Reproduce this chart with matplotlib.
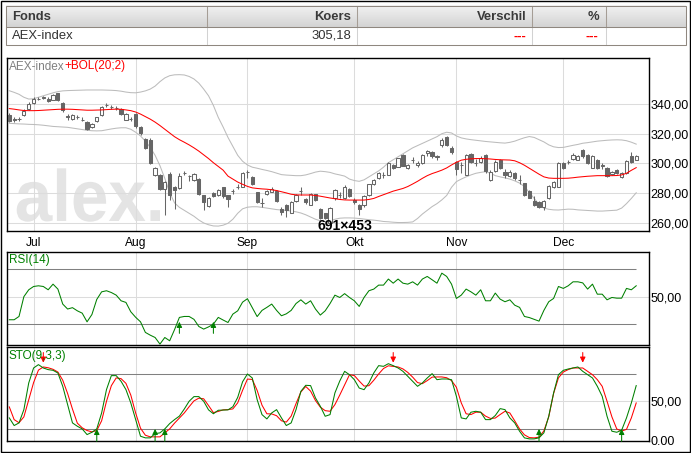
import numpy as np
import matplotlib
matplotlib.use('Agg')
import matplotlib.pyplot as plt
from matplotlib.textpath import TextPath
from matplotlib.patches import PathPatch, Rectangle
from matplotlib.font_manager import FontProperties
from matplotlib.transforms import Affine2D

# ---------------- data ----------------
month_labels = ['Jul', 'Aug', 'Sep', 'Okt', 'Nov', 'Dec']
month_pos = [5, 26, 49, 71, 92, 114]

opens = [332.8, 329.6, 329.8, 332.4, 336.9, 340.7, 343.4, 344.2, 343.6, 342.9,
         347.2, 340.7, 331.6, 329.9, 331.0, 329.5, 327.9, 324.7, 328.3, 332.4,
         339.0, 337.9, 337.2, 336.9, 329.4, 329.8, 333.3, 324.2, 316.2, 316.1,
         292.4, 292.4, 283.1, 293.2, 284.5, 283.6, 293.3, 291.8, 289.0, 289.5,
         278.7, 271.5, 280.0, 278.8, 284.0, 278.7, 281.4, 284.3, 284.4, 294.4,
         291.1, 280.6, 273.2, 279.2, 281.0, 281.5, 269.7, 272.4, 267.0, 274.7,
         281.4, 276.1, 272.4, 279.2, 269.3, 266.4, 259.8, 277.0, 278.7, 276.5,
         282.8, 275.4, 272.4, 272.4, 278.8, 286.0, 290.0, 292.2, 292.3, 299.0,
         297.9, 305.8, 296.8, 302.3, 298.8, 300.2, 306.9, 307.6, 304.6, 312.1,
         317.5, 310.7, 300.8, 299.0, 292.3, 306.5, 300.2, 300.8, 305.8, 288.9,
         295.0, 302.4, 294.5, 291.8, 293.4, 288.8, 286.6, 281.5, 274.7, 274.3,
         270.9, 276.5, 284.4, 284.4, 300.2, 300.7, 303.1, 302.4, 309.2, 305.8,
         297.2, 302.4, 298.5, 297.2, 292.7, 295.6, 291.1, 293.4, 304.7, 302.4]
highs = [334.0, 331.0, 331.5, 336.5, 341.0, 344.5, 344.8, 345.3, 344.5, 347.0,
         347.5, 341.0, 333.3, 333.0, 332.5, 331.0, 328.5, 327.0, 331.5, 338.5,
         340.5, 339.0, 338.5, 337.5, 334.0, 331.5, 334.0, 325.0, 317.0, 317.0,
         297.5, 293.0, 288.5, 294.0, 285.0, 293.5, 295.0, 292.3, 293.5, 290.0,
         279.0, 277.5, 281.0, 282.5, 284.5, 279.0, 283.0, 286.5, 294.0, 295.5,
         291.5, 281.0, 276.5, 282.0, 284.0, 282.0, 271.0, 273.0, 274.5, 279.5,
         284.5, 276.5, 280.0, 279.5, 270.0, 267.0, 270.5, 282.8, 280.5, 285.5,
         283.5, 276.5, 273.0, 279.0, 286.5, 289.5, 294.0, 294.0, 301.0, 299.5,
         304.0, 306.5, 299.5, 304.5, 301.5, 306.5, 309.0, 308.5, 306.0, 316.8,
         318.5, 311.5, 301.5, 301.0, 306.5, 307.0, 303.0, 305.0, 306.5, 295.5,
         302.0, 303.0, 296.5, 295.5, 294.0, 292.0, 287.0, 282.0, 278.0, 275.0,
         275.5, 285.8, 288.5, 301.0, 300.8, 302.0, 307.0, 305.5, 310.0, 306.5,
         305.5, 303.0, 300.5, 297.8, 295.0, 296.5, 294.0, 302.5, 307.5, 305.8]
lows = [328.0, 328.0, 328.5, 331.8, 336.0, 340.0, 342.5, 343.5, 341.2, 342.5,
        342.0, 334.5, 329.5, 329.5, 330.0, 328.5, 322.5, 324.0, 327.8, 332.0,
        338.0, 336.8, 336.0, 332.5, 329.0, 328.5, 324.0, 319.0, 309.5, 299.5,
        291.5, 282.0, 265.3, 275.5, 269.5, 283.0, 292.0, 288.5, 288.5, 279.0,
        268.5, 270.5, 277.5, 278.0, 277.0, 270.5, 279.5, 283.0, 284.0, 290.0,
        285.5, 273.5, 271.0, 278.5, 280.5, 274.0, 265.5, 264.0, 266.5, 274.0,
        278.5, 273.0, 272.0, 275.0, 262.5, 262.5, 259.5, 275.5, 277.0, 276.0,
        277.5, 272.5, 265.5, 271.0, 278.3, 285.5, 289.5, 290.0, 292.0, 296.5,
        297.5, 298.0, 296.0, 300.5, 297.5, 299.8, 305.0, 303.5, 302.5, 311.0,
        311.5, 306.5, 292.0, 293.5, 292.0, 300.0, 298.5, 300.0, 293.5, 288.5,
        294.5, 296.0, 290.0, 291.0, 289.0, 286.5, 278.0, 276.5, 271.5, 270.0,
        268.5, 276.0, 283.5, 284.0, 296.0, 299.5, 302.5, 302.0, 304.0, 299.5,
        296.8, 296.0, 296.5, 291.0, 292.0, 293.0, 290.5, 293.0, 300.0, 302.0]
closes = [328.8, 329.4, 330.0, 335.5, 340.0, 343.6, 343.6, 344.3, 341.8, 346.3,
          342.5, 336.2, 331.4, 332.4, 331.1, 329.4, 323.4, 326.5, 331.0, 337.8,
          339.1, 337.8, 337.3, 333.3, 333.3, 329.7, 324.9, 320.4, 310.4, 300.4,
          296.7, 282.9, 287.6, 278.5, 282.2, 291.9, 293.5, 291.7, 292.6, 279.4,
          274.4, 276.6, 278.4, 282.0, 278.2, 276.2, 281.5, 284.4, 293.4, 294.5,
          286.0, 274.3, 273.1, 281.5, 282.8, 274.7, 267.5, 268.6, 273.8, 278.8,
          281.5, 273.8, 279.2, 275.4, 263.4, 263.5, 269.8, 282.1, 278.8, 284.4,
          278.3, 273.8, 269.3, 278.3, 286.0, 288.9, 293.4, 292.3, 300.2, 297.2,
          303.5, 298.6, 299.0, 302.4, 300.0, 305.8, 308.5, 304.7, 304.7, 315.9,
          312.1, 307.6, 296.3, 299.1, 305.4, 300.8, 300.3, 303.5, 295.0, 294.5,
          301.3, 296.8, 292.3, 294.5, 290.0, 288.9, 278.8, 277.0, 272.4, 270.9,
          274.7, 285.1, 287.8, 300.2, 296.8, 300.8, 305.8, 304.7, 304.7, 300.2,
          304.7, 296.8, 298.6, 291.8, 294.5, 293.4, 293.4, 301.7, 300.8, 305.2]

bol_mid = [336.9, 336.5, 336.0, 335.6, 335.5, 335.5, 335.6, 335.8, 336.0, 336.2,
           336.4, 336.5, 336.5, 336.4, 336.2, 336.0, 335.8, 335.8, 335.9, 336.0,
           336.2, 336.4, 336.5, 336.4, 336.0, 335.5, 334.6, 333.2, 331.5, 329.8,
           327.8, 325.5, 323.0, 320.5, 318.0, 316.0, 314.3, 312.5, 310.5, 308.3,
           305.8, 303.3, 300.5, 298.0, 295.5, 291.5, 289.5, 287.5, 286.0, 284.6,
           283.6, 283.2, 282.9, 282.7, 282.3, 281.8, 281.0, 280.2, 279.3, 278.9,
           278.8, 278.8, 278.8, 278.5, 278.0, 277.4, 276.8, 276.3, 275.8, 275.5,
           275.4, 275.4, 275.4, 275.4, 275.8, 276.5, 277.8, 279.0, 280.2, 281.4,
           282.3, 283.2, 284.5, 286.2, 288.0, 290.0, 291.8, 293.2, 294.3, 295.5,
           297.0, 299.0, 300.8, 302.2, 302.8, 303.1, 303.3, 303.3, 303.2, 303.0,
           302.7, 302.5, 302.4, 302.3, 301.8, 300.5, 298.8, 296.8, 294.8, 292.8,
           291.0, 290.2, 290.0, 290.0, 290.0, 290.1, 290.4, 290.8, 291.1, 291.4,
           291.6, 291.8, 291.8, 291.8, 291.8, 291.9, 292.3, 293.4, 295.4, 297.2]
bol_up = [348.9, 347.8, 346.5, 344.5, 343.3, 343.5, 344.5, 345.5, 346.5, 347.5,
          348.3, 348.8, 349.0, 349.1, 349.2, 349.3, 349.4, 349.4, 349.4, 349.4,
          349.3, 349.2, 349.0, 348.6, 348.0, 347.6, 347.5, 348.0, 348.8, 350.0,
          352.0, 355.0, 357.5, 359.0, 359.6, 359.7, 359.5, 358.5, 356.8, 354.0,
          350.0, 345.5, 339.0, 331.0, 324.5, 317.5, 311.5, 305.5, 301.5, 299.0,
          297.5, 296.8, 296.0, 295.3, 294.5, 293.5, 292.5, 292.2, 292.0, 291.8,
          291.8, 292.3, 293.2, 294.2, 294.8, 294.5, 294.0, 293.0, 292.3, 291.5,
          289.5, 288.5, 288.0, 289.0, 291.0, 293.0, 295.0, 297.5, 300.5, 302.5,
          304.5, 306.5, 308.5, 310.5, 312.0, 313.5, 315.0, 316.5, 318.0, 320.0,
          321.0, 320.5, 318.5, 317.2, 316.5, 316.0, 315.6, 315.2, 314.8, 314.5,
          314.2, 313.9, 313.7, 314.2, 315.0, 316.2, 317.3, 318.1, 317.5, 316.0,
          314.5, 312.5, 311.2, 310.7, 310.8, 311.5, 312.2, 312.8, 313.6, 314.0,
          314.5, 315.0, 315.3, 315.6, 315.8, 315.9, 315.8, 315.3, 314.3, 313.0]
bol_low = [327.0, 326.8, 326.6, 326.5, 326.3, 326.2, 326.0, 325.7, 325.3, 324.9,
           324.7, 324.5, 324.3, 323.8, 323.3, 322.8, 322.3, 322.0, 321.9, 322.0,
           322.6, 323.2, 323.7, 324.0, 324.0, 323.0, 321.0, 318.5, 315.0, 310.8,
           305.5, 298.5, 290.0, 280.5, 273.5, 270.5, 268.5, 266.5, 264.5, 262.0,
           260.0, 258.8, 258.0, 257.9, 258.5, 259.8, 262.5, 266.5, 269.5, 270.6,
           270.9, 270.9, 270.5, 270.0, 269.5, 269.0, 268.7, 268.4, 268.0, 267.5,
           266.7, 265.5, 264.0, 262.5, 261.5, 260.8, 261.5, 262.5, 263.2, 263.4,
           263.4, 263.3, 263.0, 262.6, 262.2, 261.9, 261.5, 261.0, 260.8, 260.5,
           260.3, 260.3, 260.4, 260.7, 263.0, 266.0, 268.5, 271.0, 273.0, 275.5,
           278.5, 284.0, 287.8, 289.5, 291.0, 292.3, 293.4, 294.0, 294.5, 293.5,
           291.8, 291.0, 290.3, 289.5, 288.3, 286.8, 284.5, 280.5, 276.5, 272.5,
           270.0, 269.2, 268.8, 268.7, 269.0, 269.3, 269.2, 268.8, 268.6, 268.4,
           268.2, 268.0, 268.0, 268.2, 268.4, 268.6, 270.0, 273.0, 276.5, 280.3]

rsi = [33.2, 33.2, 35.6, 50.0, 55.0, 57.4, 57.9, 57.4, 55.0, 59.1,
       55.5, 44.6, 41.0, 42.0, 39.7, 38.0, 31.7, 37.0, 48.0, 53.5,
       54.3, 53.0, 51.1, 47.0, 45.8, 39.0, 35.0, 31.7, 24.0, 22.0,
       20.3, 15.5, 20.3, 17.9, 26.0, 34.9, 35.6, 35.6, 33.5, 28.3,
       26.4, 28.0, 30.0, 34.9, 33.0, 31.2, 37.3, 39.7, 46.0, 48.5,
       42.0, 35.5, 40.0, 42.2, 44.6, 40.0, 36.1, 37.5, 40.0, 45.0,
       47.7, 44.6, 47.0, 41.0, 36.6, 39.7, 45.0, 51.1, 49.4, 52.2,
       49.4, 47.0, 42.9, 49.4, 54.3, 55.5, 58.4, 58.4, 62.8, 59.8,
       62.8, 59.8, 59.1, 60.8, 58.4, 62.8, 64.7, 62.3, 59.8, 67.1,
       64.7, 59.1, 48.7, 51.1, 55.5, 53.5, 51.1, 55.0, 47.0, 47.0,
       52.6, 48.2, 46.3, 47.7, 43.8, 42.2, 35.6, 34.8, 33.5, 32.2,
       40.0, 46.3, 48.7, 57.4, 56.0, 57.9, 60.8, 60.8, 60.0, 55.5,
       59.1, 51.8, 51.8, 47.7, 49.4, 48.9, 48.9, 56.0, 55.0, 57.9]

sto_k = [28.7, 18.9, 22.3, 39.3, 73.5, 92.7, 97.0, 92.7, 90.6, 89.7,
         86.3, 69.2, 45.7, 22.3, 18.0, 14.6, 7.3, 10.3, 14.6, 35.1,
         65.0, 82.9, 82.9, 75.6, 65.0, 47.9, 26.5, 5.2, 3.1, 3.1,
         8.6, 9.5, 14.6, 21.4, 26.5, 31.0, 40.0, 50.0, 56.0, 56.0,
         50.0, 39.0, 34.0, 38.5, 38.8, 39.0, 43.0, 55.0, 75.0, 85.0,
         79.9, 52.1, 32.9, 27.4, 35.1, 39.3, 28.7, 18.9, 22.3, 39.3,
         62.8, 70.5, 70.1, 54.3, 43.6, 30.8, 32.9, 60.7, 76.0, 88.4,
         84.1, 77.7, 67.0, 64.9, 73.5, 86.3, 95.7, 94.8, 98.2, 95.7,
         92.7, 88.4, 82.0, 75.6, 69.2, 73.5, 79.9, 85.4, 77.7, 78.6,
         78.6, 77.7, 56.4, 28.7, 27.4, 36.0, 37.2, 36.0, 26.5, 26.5,
         31.7, 40.6, 39.3, 28.7, 22.3, 11.6, 3.1, 1.8, 1.8, 3.1,
         9.5, 30.8, 60.7, 84.1, 89.7, 91.4, 92.7, 94.0, 88.4, 84.1,
         79.9, 69.2, 56.4, 30.8, 11.6, 10.3, 12.9, 28.7, 47.9, 70.1]
sto_d = [42.8, 26.5, 22.5, 30.0, 52.0, 74.0, 90.0, 94.0, 93.0, 91.0,
         87.5, 77.0, 60.0, 40.0, 22.0, 16.0, 12.5, 10.8, 12.5, 25.0,
         50.0, 70.0, 80.0, 79.0, 73.0, 58.0, 35.0, 15.5, 6.5, 4.4,
         4.4, 4.4, 9.5, 14.6, 22.0, 28.5, 35.0, 43.0, 50.5, 54.0,
         53.2, 44.5, 35.5, 37.0, 39.0, 39.3, 40.2, 48.0, 64.0, 78.5,
         78.0, 64.0, 45.0, 34.0, 33.8, 31.5, 25.0, 23.3, 31.0, 47.0,
         62.0, 69.0, 63.0, 51.0, 42.5, 38.0, 37.2, 45.7, 58.0, 71.0,
         84.0, 83.0, 76.0, 69.5, 70.0, 77.0, 85.0, 92.0, 95.5, 94.8,
         94.0, 91.5, 87.0, 81.0, 74.0, 72.6, 76.5, 81.0, 81.2, 81.2,
         80.2, 76.5, 68.0, 48.0, 34.0, 33.0, 36.0, 36.0, 31.0, 28.0,
         28.5, 33.0, 37.2, 35.0, 25.0, 14.5, 7.0, 3.5, 3.1, 4.0,
         12.0, 30.0, 60.0, 80.0, 87.5, 90.6, 92.7, 92.7, 92.7, 88.4,
         84.1, 77.7, 69.2, 50.0, 30.0, 14.5, 11.8, 14.0, 28.7, 47.9]

rsi_buy = [35, 42]
sto_buy = [18, 30, 32, 109, 126]
sto_sell = [7, 79, 118]

main_ticks = [260, 280, 300, 320, 340]

# ---------------- figure ----------------
W, H = 691, 453
fig = plt.figure(figsize=(W / 100, H / 100), dpi=100)
fig.patch.set_facecolor('white')

FONT = 'Liberation Sans'
PX = 0.72  # points per pixel
LW = 0.75  # ~1 px


def rect(x0, y0, x1, y1):
    return [x0 / W, 1 - y1 / H, (x1 - x0) / W, (y1 - y0) / H]


bg = fig.add_axes([0, 0, 1, 1])
bg.set_xlim(0, W)
bg.set_ylim(H, 0)
bg.axis('off')

# outer border
bg.add_patch(Rectangle((0.5, 0.5), W - 1.5, H - 1.5, fill=False, ec='black', lw=1))

# table
grad = np.linspace(0.95, 0.83, 40)[:, None, None] * np.ones((1, 1, 3))
bg.imshow(grad, extent=[6, 686, 27, 5.5], aspect='auto', interpolation='bilinear', zorder=1)
bg.add_patch(Rectangle((6, 5.5), 680, 39.5, fill=False, ec='#8f877f', lw=LW, zorder=3))
bg.plot([6, 686], [27, 27], color='#8f877f', lw=LW, zorder=3)
for cx in [207, 357, 532, 606]:
    bg.plot([cx, cx], [5.5, 27], color='#a59d95', lw=LW, zorder=2)
    bg.plot([cx, cx], [27, 45], color='#d2d2d2', lw=LW, zorder=2)
tfs = 13.0 * PX
hdr = dict(va='center', fontsize=tfs, family=FONT, weight='bold', color='#3a3a3a')
row = dict(va='center', fontsize=tfs, family=FONT, color='#333333')
bg.text(12, 16.5, 'Fonds', ha='left', **hdr)
bg.text(351, 16.5, 'Koers', ha='right', **hdr)
bg.text(527, 16.5, 'Verschil', ha='right', **hdr)
bg.text(599, 16.5, '%', ha='right', **hdr)
bg.text(12, 36, 'AEX-index', ha='left', **row)
bg.text(351, 36, '305,18', ha='right', **row)
bg.text(526, 37, '---', ha='right', va='center', fontsize=tfs, family=FONT,
        weight='bold', color='#ff0000')
bg.text(598, 37, '---', ha='right', va='center', fontsize=tfs, family=FONT,
        weight='bold', color='#ff0000')

# watermark
tp = TextPath((0, 0), 'alex.', size=100, prop=FontProperties(family=FONT, weight='bold'))
ext = tp.get_extents()
sx = (160 - 16.7) / ext.width
sy = (221 - 168.3) / ext.y1
tr = Affine2D().translate(-ext.x0, 0).scale(sx, -sy).translate(16.7, 221) + bg.transData
bg.add_patch(PathPatch(tp, transform=tr, fc='#e4e4e4', ec='none', zorder=1))

xl = (-0.41, 131.57)
idx = np.arange(len(closes))
GRID = '#dcdcdc'


def style(ax):
    ax.set_xlim(*xl)
    ax.patch.set_alpha(0)
    for s in ax.spines.values():
        s.set_color('black')
        s.set_linewidth(1)
    ax.yaxis.tick_right()
    ax.tick_params(length=0, pad=1, labelsize=12.5 * PX)
    for m in month_pos:
        ax.axvline(m, color=GRID, lw=LW, zorder=0)


# ---------- main panel ----------
ax = fig.add_axes(rect(7.3, 58.3, 648.7, 231))
ax.set_ylim(254.6, 370.7)
ax.set_yticks(main_ticks)
ax.set_yticklabels([f'{v:.2f}'.replace('.', ',') for v in main_ticks], family=FONT)
ax.set_xticks(month_pos)
ax.set_xticklabels(month_labels, family=FONT)
style(ax)
ax.tick_params(axis='x', pad=4.2, labelsize=12 * PX)
for v in main_ticks:
    ax.axhline(v, color=GRID, lw=LW, zorder=0)

O = np.array(opens); C = np.array(closes); Hh = np.array(highs); Ll = np.array(lows)
up = C >= O
ax.vlines(idx, Ll, Hh, color='#666666', lw=LW, zorder=3)
ax.bar(idx[up], np.maximum((C - O)[up], 0.15), bottom=O[up], width=0.66,
       facecolor='white', edgecolor='#666666', lw=LW, zorder=4)
ax.bar(idx[~up], np.maximum((O - C)[~up], 0.15), bottom=C[~up], width=0.66,
       facecolor='#666666', edgecolor='#666666', lw=LW, zorder=4)
ax.plot(idx, bol_up, color='#bcbcbc', lw=LW, zorder=2)
ax.plot(idx, bol_low, color='#bcbcbc', lw=LW, zorder=2)
ax.plot(idx, bol_mid, color='#ff0000', lw=LW, zorder=5)

# ---------- RSI panel ----------
ar = fig.add_axes(rect(7.3, 251.7, 648.7, 344.5))
ar.set_ylim(15.2, 82.7)
ar.set_yticks([50])
ar.set_yticklabels(['50,00'], family=FONT)
ar.set_xticks([])
style(ar)
ar.axhline(50, color=GRID, lw=LW, zorder=0)
ar.hlines([30, 70], xl[0], idx[-1], color='#808080', lw=LW, zorder=1)
ar.plot(idx, rsi, color='#008000', lw=LW, zorder=3)
for b in rsi_buy:
    ar.annotate('', xy=(b, 31.7), xytext=(b, 23.3),
                arrowprops=dict(arrowstyle='-|>', color='#008000', lw=LW,
                                mutation_scale=8, shrinkA=0, shrinkB=0), zorder=4)

# ---------- STO panel ----------
ast = fig.add_axes(rect(7.3, 347, 648.7, 441.3))
ast.set_ylim(-1.3, 119.6)
ast.set_yticks([0, 50])
ast.set_yticklabels(['0.00', '50,00'], family=FONT)
ast.set_xticks([])
style(ast)
ast.axhline(50, color=GRID, lw=LW, zorder=0)
ast.hlines([15, 85], xl[0], idx[-1], color='#808080', lw=LW, zorder=1)
ast.plot(idx, sto_d, color='#ff0000', lw=LW, zorder=3)
ast.plot(idx, sto_k, color='#008000', lw=LW, zorder=4)
for b in sto_buy:
    ast.annotate('', xy=(b, 14.6), xytext=(b, -1.3),
                 arrowprops=dict(arrowstyle='-|>', color='#008000', lw=LW,
                                 mutation_scale=8, shrinkA=0, shrinkB=0), zorder=5)
for s in sto_sell:
    ast.annotate('', xy=(s, 99.5), xytext=(s, 112.5),
                 arrowprops=dict(arrowstyle='-|>', color='#ff0000', lw=LW,
                                 mutation_scale=8, shrinkA=0, shrinkB=0), zorder=5)

# ---------- overlay texts ----------
top = fig.add_axes([0, 0, 1, 1])
top.set_xlim(0, W)
top.set_ylim(H, 0)
top.axis('off')
top.patch.set_alpha(0)
lfs = 11.8 * PX
t1 = top.text(9, 66.5, 'AEX-index', color='#808080', fontsize=lfs, family=FONT, va='center', ha='left')
fig.canvas.draw()
bb = t1.get_window_extent()
x_next = top.transData.inverted().transform((bb.x1, 0))[0]
top.text(x_next, 66.5, '+BOL(20;2)', color='#ff0000', fontsize=lfs, family=FONT, va='center', ha='left')
top.text(9, 260.5, 'RSI(14)', color='#008000', fontsize=lfs, family=FONT, va='center', ha='left')
top.text(9, 356, 'STO(9,3,3)', color='#008000', fontsize=lfs, family=FONT, va='center', ha='left')
top.text(345, 225.5, '691×453', color='black', fontsize=14 * PX, family=FONT, weight='bold',
         va='center', ha='center')

fig.savefig('out.png', dpi=100, facecolor='white')
